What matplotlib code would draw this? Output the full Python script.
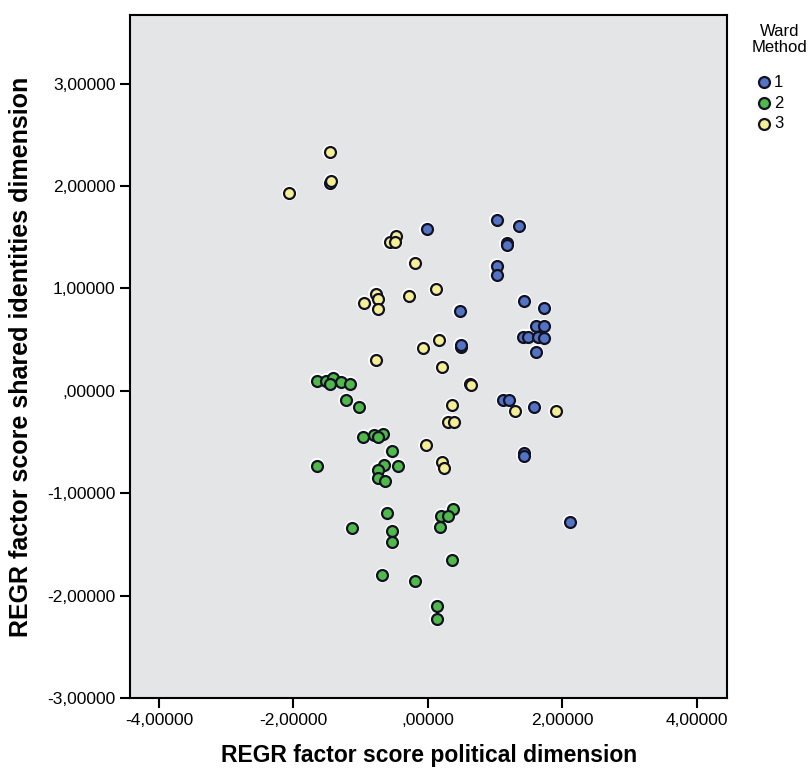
import matplotlib.pyplot as plt
from matplotlib.ticker import FuncFormatter

plt.rcParams['font.family'] = ['Liberation Sans', 'DejaVu Sans']

# cluster 1 (blue)
x1 = [-0.02, 1.02, 1.36, 1.17, 1.18, 1.02, 1.02, 0.47, 1.43, 1.73, 1.61, 1.72, 1.42,
      1.49, 1.63, 1.72, 1.61, 0.49, 0.49, 1.12, 1.20, 1.58, 1.43, 1.43, 2.11]
y1 = [1.58, 1.67, 1.61, 1.44, 1.42, 1.22, 1.13, 0.78, 0.88, 0.81, 0.63, 0.63, 0.53,
      0.53, 0.53, 0.52, 0.38, 0.43, 0.45, -0.09, -0.09, -0.16, -0.61, -0.64, -1.28]

# cluster 2 (green)
x2 = [-1.65, -1.51, -1.41, -1.30, -1.16, -1.45, -1.22, -1.02, -0.96, -0.81, -0.67,
      -0.75, -0.54, -1.65, -0.65, -0.44, -0.75, -0.75, -0.64, -0.61, -1.13, -0.53,
      -0.53, 0.37, 0.20, 0.30, 0.18, 0.36, -0.68, -0.19, 0.13, 0.13]
y2 = [0.10, 0.10, 0.13, 0.09, 0.07, 0.07, -0.09, -0.16, -0.45, -0.43, -0.42,
      -0.45, -0.59, -0.73, -0.72, -0.73, -0.77, -0.85, -0.88, -1.19, -1.34, -1.37,
      -1.48, -1.15, -1.22, -1.22, -1.33, -1.65, -1.80, -1.86, -2.10, -2.23]

# cluster 3 (yellow)
x3 = [-2.06, -1.45, -1.44, -1.46, -0.57, -0.48, -0.49, -0.20, -0.95, -0.78, -0.74,
      -0.75, -0.28, 0.12, -0.07, 0.17, -0.78, 0.21, 0.63, 0.64, 0.36, 0.30, 0.38,
      1.30, 1.90, -0.03, 0.21, 0.24]
y3 = [1.93, 2.03, 2.05, 2.33, 1.45, 1.51, 1.45, 1.25, 0.86, 0.95, 0.90,
      0.80, 0.93, 0.99, 0.42, 0.50, 0.30, 0.23, 0.07, 0.06, -0.14, -0.30, -0.30,
      -0.20, -0.20, -0.53, -0.70, -0.75]

groups = ['1', '2', '3']
colors = ['#5373c4', '#4fba4a', '#f4ef94']

fig = plt.figure(figsize=(8.08, 7.7), dpi=100)
ax = fig.add_axes([0.161, 0.0935, 0.739, 0.887])
ax.set_facecolor('#e4e5e6')

for xs, ys, c, g in zip([x1, x2, x3], [y1, y2, y3], colors, groups):
    ax.scatter(xs, ys, s=120, c='white', edgecolors='none', zorder=2)
    ax.scatter(xs, ys, s=62, c=c, edgecolors='#111122', linewidths=1.6,
               zorder=3, label=g)

ax.set_xlim(-4.43, 4.45)
ax.set_ylim(-3, 3.67)
ax.set_xticks([-4, -2, 0, 2, 4])
ax.set_yticks([-3, -2, -1, 0, 1, 2, 3])


def fmt(v, pos):
    s = '{:.5f}'.format(v).replace('.', ',')
    if s.startswith('0,'):
        s = s[1:]
    if s.startswith('-0,'):
        s = s[2:]
    return s


ax.xaxis.set_major_formatter(FuncFormatter(fmt))
ax.yaxis.set_major_formatter(FuncFormatter(fmt))
ax.tick_params(labelsize=12.5, length=7, width=1.5, color='black')
for sp in ax.spines.values():
    sp.set_linewidth(1.5)
    sp.set_color('black')

ax.set_xlabel('REGR factor score political dimension', fontsize=16.5,
              fontweight='bold', labelpad=12)
ax.set_ylabel('REGR factor score shared identities dimension', fontsize=18,
              fontweight='bold', labelpad=10)

# legend: title as text, items below it
fig.text(0.965, 0.969, 'Ward\nMethod', ha='center', va='top',
         multialignment='center', fontsize=12, linespacing=1.1)
handles, labels = ax.get_legend_handles_labels()
fig.legend(handles, labels, loc='upper left', bbox_to_anchor=(0.935, 0.903),
           frameon=False, fontsize=12, handletextpad=0.1, borderaxespad=0.0,
           borderpad=0.0, labelspacing=0.35, handlelength=1.0)

plt.savefig('out.png', dpi=100)
